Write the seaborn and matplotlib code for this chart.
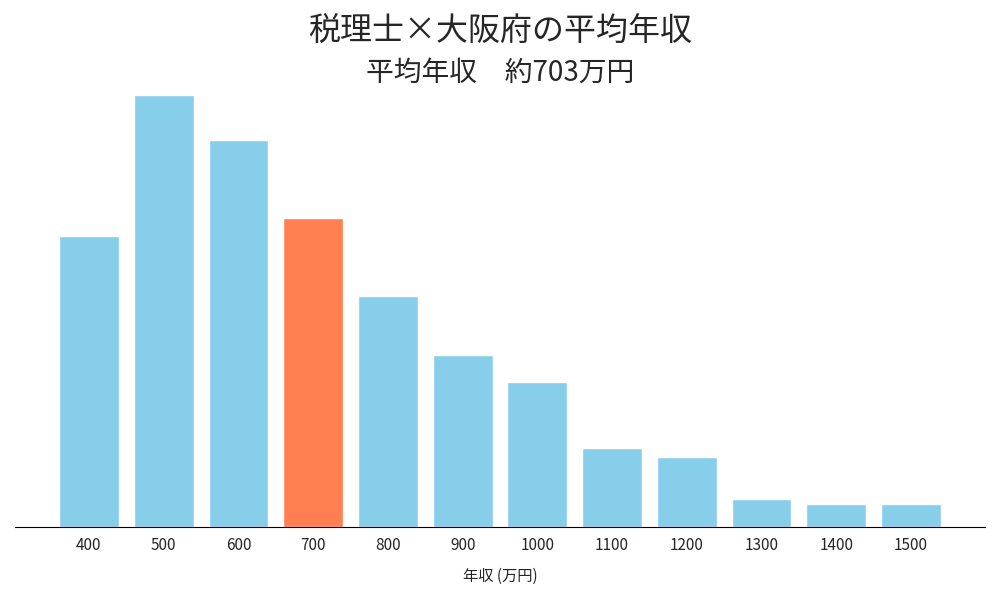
import matplotlib
matplotlib.use("Agg")
import matplotlib.pyplot as plt
import seaborn as sns
import pandas as pd

sns.set_style("white")
plt.rcParams["font.family"] = ["Noto Sans CJK JP", "DejaVu Sans"]

# data (relative heights)
incomes = ["400", "500", "600", "700", "800", "900", "1000",
           "1100", "1200", "1300", "1400", "1500"]
counts = [291, 432, 387, 309, 231, 172, 145, 79, 70, 28, 23, 23]
highlight = "700"

BLUE = "#87CEEB"
CORAL = "#FF7F50"

df = pd.DataFrame({"income": incomes, "count": counts})
palette = {k: (CORAL if k == highlight else BLUE) for k in incomes}

fig = plt.figure(figsize=(10, 6), dpi=100)
ax = fig.add_axes([0.015, 1 - 527 / 600, 0.97, (527 - 95) / 600])
sns.barplot(data=df, x="income", y="count", hue="income", palette=palette,
            order=incomes, width=0.8, saturation=1, legend=False, ax=ax)

ax.set_xlim(-0.99, 11.99)
ax.set_ylim(0, max(counts))
ax.set_yticks([])
ax.set_ylabel("")
ax.set_xlabel("年収 (万円)", fontsize=11, labelpad=10)
ax.tick_params(axis="x", labelsize=11, length=4, color="black")
for s in ["top", "left", "right"]:
    ax.spines[s].set_visible(False)
ax.spines["bottom"].set_color("black")

fig.text(0.5, 0.948, "税理士×大阪府の平均年収", ha="center", va="center", fontsize=23)
fig.text(0.5, 0.878, "平均年収　約703万円", ha="center", va="center", fontsize=20)

fig.savefig("out.png", dpi=100)
